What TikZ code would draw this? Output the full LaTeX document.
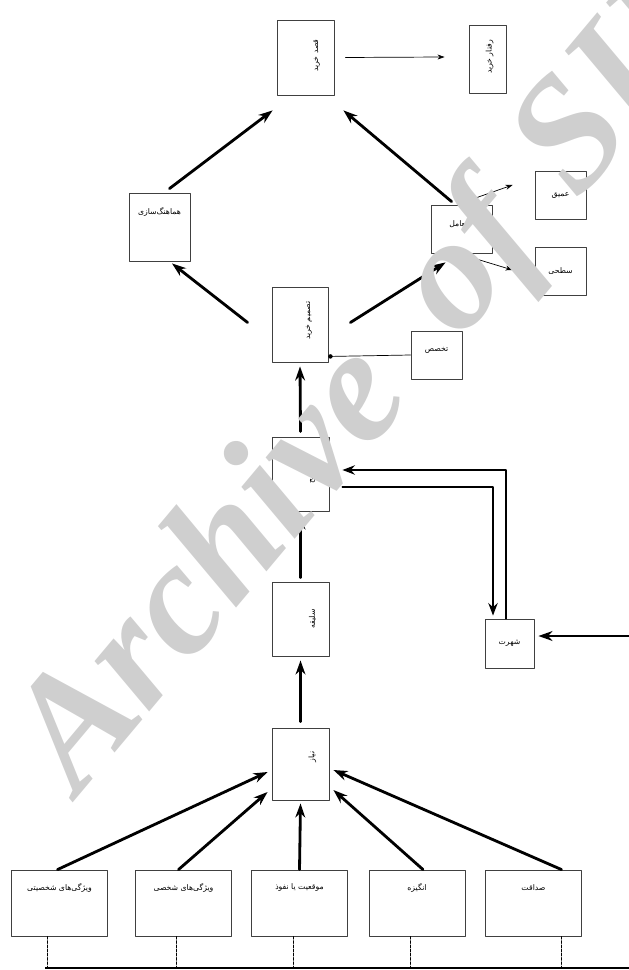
\documentclass[tikz,border=0pt]{standalone}
\usepackage{fontspec}
\usetikzlibrary{calc,arrows.meta}
\newfontfamily\fa[Script=Arabic]{DejaVu Sans}
\newfontfamily\wmfont{Liberation Serif}
\TeXXeTstate=1
\newcommand{\fatxt}[1]{\fa\beginR #1\endR}

\begin{document}
\begin{tikzpicture}[x=0.025cm,y=-0.025cm,>=Stealth,line join=round,line cap=round,
  font=\fontsize{5.5}{6}\selectfont,
  box/.style={draw=black!75,line width=0.6pt,inner sep=0pt},
  vbox/.style={box,minimum width=1.425cm,minimum height=1.85cm},
  sbox/.style={box,minimum width=1.275cm,minimum height=1.2cm},
  fbox/.style={box,minimum width=2.4cm,minimum height=1.65cm},
  vtxt/.style={rotate=90,inner sep=0pt},
  big/.style={-{Stealth[length=10pt,width=7pt]},line width=2pt},
  thin/.style={-{Stealth[length=5pt,width=3.5pt]},line width=0.5pt},
  mid/.style={line width=1.3pt}]
\useasboundingbox (0,0) rectangle (629,970);
\path
(45,968) coordinate (busL)
(629,968) coordinate (busR)
(629,636) coordinate (inR)
;
%
\node[vbox,minimum height=1.875cm] (topc) at (305.5,57.5) {};
\node[box,minimum width=0.925cm,minimum height=1.7cm] (topr) at (487.5,59) {};
\node[box,minimum width=1.525cm,minimum height=1.7cm] (coord) at (159.5,227) {};
\node[box,minimum width=1.525cm,minimum height=1.2cm] (tamol) at (461.5,229) {};
\node[sbox] (amiq) at (560.5,195) {\fatxt{عمیق}};
\node[sbox] (sathi) at (560.5,271.5) {\fatxt{سطحی}};
\node[vbox,minimum width=1.4cm,minimum height=1.875cm] (tasmim) at (300,324.5) {};
\node[sbox] (takhas) at (436.5,355) {};
\node[vbox] (tarjih) at (300.5,474) {};
\node[vbox] (saliqe) at (300.5,619) {};
\node[vbox,minimum height=1.8cm] (niaz) at (300.5,764) {};
\node[sbox,minimum width=1.225cm,minimum height=1.225cm] (shohrat) at (509.5,643.5) {\fatxt{شهرت}};
% texts
\node[vtxt] (topc-t) at ($(topc)+(11,-2)$) {\fatxt{قصد خرید}};
\node[vtxt] (topr-t) at ($(topr)+(2,-2)$) {\fatxt{رفتار خرید}};
\node (coord-t) at ($(coord.north)+(0,19)$) {\fatxt{هماهنگ‌سازی}};
\node (tamol-t) at ($(tamol)+(-3,-5)$) {\fatxt{تعامل}};
\node (takhas-t) at ($(takhas)+(0,-5)$) {\fatxt{تخصص}};
\node[vtxt] (tasmim-t) at ($(tasmim)+(9,-4)$) {\fatxt{تصمیم خرید}};
\node[vtxt] (tarjih-t) at ($(tarjih)+(12,0)$) {\fatxt{ترجیح}};
\node[vtxt] (saliqe-t) at ($(saliqe)+(12,0)$) {\fatxt{سلیقه}};
\node[vtxt] (niaz-t) at ($(niaz)+(12,-7)$) {\fatxt{نیاز}};
%
\foreach \i/\x/\t in {1/59.5/ویژگی‌های شخصیتی,2/183.5/ویژگی‌های شخصی,3/299.5/موقعیت یا نفوذ,4/417/انگیزه,5/533.5/صداقت}{
  \node[fbox] (f\i) at (\x,903) {};
  \node (f\i-t) at ($(f\i.north)+(0,18)$) {\fatxt{\t}};
}
% bottom bus
\foreach \i/\d in {1/-12.5,2/-7.5,3/-6.5,4/-7,5/27.5}
  \draw[dashed,line width=0.5pt,dash pattern=on 2pt off 1pt] ($(f\i.south)+(\d,0)$) coordinate (d\i) -- (d\i |- busL);
\draw[line width=2pt,line cap=butt] (busL)--(busR);
%
\draw[big] ($(f1.north)+(-2,0)$) -- ($(niaz.west)+(-4,8)$);
\draw[big] ($(f2.north)+(-5,0)$) -- ($(niaz.west)+(-4,28)$);
\draw[big] (f3.north) -- ($(niaz.south)+(0,3)$);
\draw[big] ($(f4.north)+(6,0)$) -- ($(niaz.east)+(4,26)$);
\draw[big] ($(f5.north)+(28,0)$) -- ($(niaz.east)+(4,6)$);
\draw[big] ($(niaz.north)+(0,-6)$) -- ($(saliqe.south)+(0,4)$);
\draw[big] ($(saliqe.north)+(0,-4)$) -- ($(tarjih.south)+(0,4)$);
\draw[big] ($(tarjih.north)+(0,-5)$) -- ($(tasmim.south)+(0,4)$);
\draw[big] ($(tasmim.west)+(-24,-2)$) -- ($(coord.south)+(12.5,2)$);
\draw[big] ($(tasmim.east)+(22,-2)$) -- ($(tamol.south west)+(15,9)$);
\draw[big] ($(coord.north)+(10,-4)$) -- ($(topc.south west)+(-4,15)$);
\draw[big] ($(tamol.north west)+(21,-3)$) -- ($(topc.south east)+(9,15)$);
\draw[big] (inR) -- ($(shohrat.east)+(4,-7.5)$);
%
\draw[thin] ($(topc.east)+(11,0)$) -- ($(topr.west)+(-24,-2)$);
\draw[thin] ($(tamol.north west)+(32,-2)$) -- ($(amiq.west)+(-22,-10)$);
\draw[thin] ($(tamol.south west)+(34,2)$) -- ($(sathi.west)+(-22,-1.5)$);
\draw[line width=0.5pt] (takhas.west) -- ($(tasmim.south east)+(2,-6)$) coordinate (dot);
\fill (dot) circle (1.6pt);
\draw[mid,->] ($(shohrat.north)+(-3.5,0)$) |- ($(tarjih.east)+(13,-4)$);
\draw[mid,->] ($(tarjih.east)+(13,13)$) -| ($(shohrat.north)+(-16.5,-3)$);
% watermark
\node[rotate=50,anchor=west,text=gray!38,font=\wmfont\bfseries\itshape\fontsize{115}{115}\selectfont] (wmark) at (45,775) {Archive\hspace{0.45em}of\hspace{0.3em}SID};
\end{tikzpicture}
\end{document}
